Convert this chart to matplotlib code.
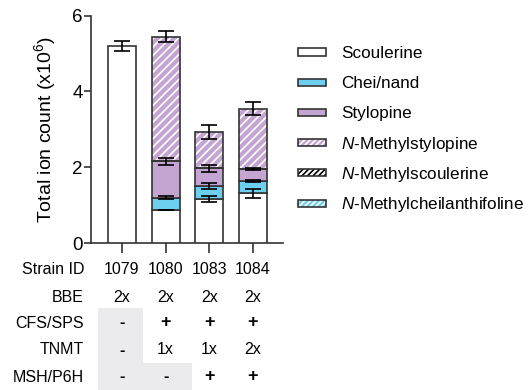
import numpy as np
import matplotlib
matplotlib.use('Agg')
from matplotlib import pyplot as plt
from matplotlib.patches import Rectangle
from matplotlib.transforms import blended_transform_factory

plt.rcParams['font.family'] = ['Liberation Sans', 'DejaVu Sans']
plt.rcParams['mathtext.fontset'] = 'custom'
plt.rcParams['mathtext.rm'] = 'Liberation Sans'
plt.rcParams['mathtext.it'] = 'Liberation Sans:italic'
plt.rcParams['hatch.linewidth'] = 1.2

# data (x10^6 ion counts)
strains = ['1079', '1080', '1083', '1084']
scoulerine = [5.20, 0.87, 1.16, 1.31]
chei_nand = [0.00, 0.33, 0.34, 0.33]
stylopine = [0.00, 0.96, 0.47, 0.31]
n_methylstylopine = [0.00, 3.29, 0.96, 1.59]
n_methylscoulerine = [0.0, 0.0, 0.0, 0.0]
n_methylcheil = [0.0, 0.0, 0.0, 0.0]

err_scoulerine = [0.13, 0.01, 0.07, 0.12]
err_chei = [0.0, 0.04, 0.08, 0.02]
err_stylopine = [0.0, 0.09, 0.10, 0.02]
err_nms = [0.0, 0.15, 0.19, 0.17]

row_labels = ['Strain ID', 'BBE', 'CFS/SPS', 'TNMT', 'MSH/P6H']
table_rows = [strains,
              ['2x', '2x', '2x', '2x'],
              ['-', '+', '+', '+'],
              ['-', '1x', '1x', '2x'],
              ['-', '-', '+', '+']]

white = '#ffffff'
blue = '#6dcff0'
purple = '#c4a5d2'
edge = '#333333'

W, H = 531, 390
fig = plt.figure(figsize=(5.31, 3.90), dpi=100)
ax = fig.add_axes([91/W, 1-243/H, (283-91)/W, (243-15.7)/H])

x = np.arange(len(strains))
w = 0.64
layers = [(scoulerine, white, None, err_scoulerine),
          (chei_nand, blue, None, err_chei),
          (stylopine, purple, None, err_stylopine),
          (n_methylstylopine, purple, '////', err_nms)]

bottom = np.zeros(len(strains))
for vals, col, hatch, err in layers:
    vals = np.array(vals)
    mask = vals > 0
    if hatch:
        ax.bar(x[mask], vals[mask], w, bottom=bottom[mask], color=col,
               edgecolor='white', hatch=hatch, linewidth=0, zorder=2)
        ax.bar(x[mask], vals[mask], w, bottom=bottom[mask], fill=False,
               edgecolor=edge, linewidth=1.2, zorder=3)
    else:
        ax.bar(x[mask], vals[mask], w, bottom=bottom[mask], color=col,
               edgecolor=edge, linewidth=1.2, zorder=3)
    top = bottom + vals
    ax.errorbar(x[mask], top[mask], yerr=np.array(err)[mask], fmt='none',
                ecolor='black', elinewidth=1.2, capsize=5.5, capthick=1.2, zorder=4)
    bottom = top

ax.set_xlim(-0.71, 3.69)
ax.set_ylim(0, 6)
ax.set_yticks([0, 2, 4, 6])
ax.set_xticks(x)
ax.set_xticklabels([])
ax.tick_params(axis='x', length=7, width=1.2, color=edge, direction='out')
ax.tick_params(axis='y', length=5, width=1.2, color=edge, labelsize=13.5, pad=1)
for s in ['top', 'right']:
    ax.spines[s].set_visible(False)
for s in ['left', 'bottom']:
    ax.spines[s].set_linewidth(1.2)
    ax.spines[s].set_color(edge)
ax.set_ylabel('Total ion count (x10$^6$)', fontsize=14, labelpad=10)

# legend, drawn by hand so rows are evenly spaced
leg_items = [('Scoulerine', white, None, None),
             ('Chei/nand', blue, None, None),
             ('Stylopine', purple, None, None),
             ('$\\it{N}$-Methylstylopine', purple, 'white', '//////'),
             ('$\\it{N}$-Methylscoulerine', white, 'black', '//////'),
             ('$\\it{N}$-Methylcheilanthifoline', blue, 'white', '//////')]
for i, (lab, col, hc, hatch) in enumerate(leg_items):
    yc = 52 + 30.2 * i
    x0, x1, hh = 298, 326, 7
    box = (x0/W, 1-(yc+hh/2)/H)
    if hatch:
        fig.patches.append(Rectangle(box, (x1-x0)/W, hh/H, transform=fig.transFigure,
                                     facecolor=col, edgecolor=hc, hatch=hatch, linewidth=0))
        fig.patches.append(Rectangle(box, (x1-x0)/W, hh/H, transform=fig.transFigure,
                                     fill=False, edgecolor=edge, linewidth=1.2))
    else:
        fig.patches.append(Rectangle(box, (x1-x0)/W, hh/H, transform=fig.transFigure,
                                     facecolor=col, edgecolor=edge, linewidth=1.2))
    fig.text(341/W, 1-(yc+6)/H, lab, ha='left', va='baseline', fontsize=12.3)

# table below the axes
trans = blended_transform_factory(ax.transData, fig.transFigure)
row_y = [270, 297, 323, 350, 377]
# grey shading
fig.patches.append(Rectangle((98/W, 0), (143-98)/W, 1-308/H, transform=fig.transFigure,
                             facecolor='#ebebed', edgecolor='none', zorder=-1))
fig.patches.append(Rectangle((143/W, 0), (192-143)/W, 1-363/H, transform=fig.transFigure,
                             facecolor='#ebebed', edgecolor='none', zorder=-1))
for lab, yy, vals in zip(row_labels, row_y, table_rows):
    fig.text(84/W, 1-yy/H, lab, ha='right', va='center', fontsize=11.5)
    for xi, v in zip(x, vals):
        ax.text(xi, 1-yy/H, v, transform=trans, ha='center', va='center',
                fontsize=13 if v == '+' else 11.5,
                fontweight='bold' if v in '+-' else 'normal', clip_on=False)

fig.savefig('out.png', dpi=100)
